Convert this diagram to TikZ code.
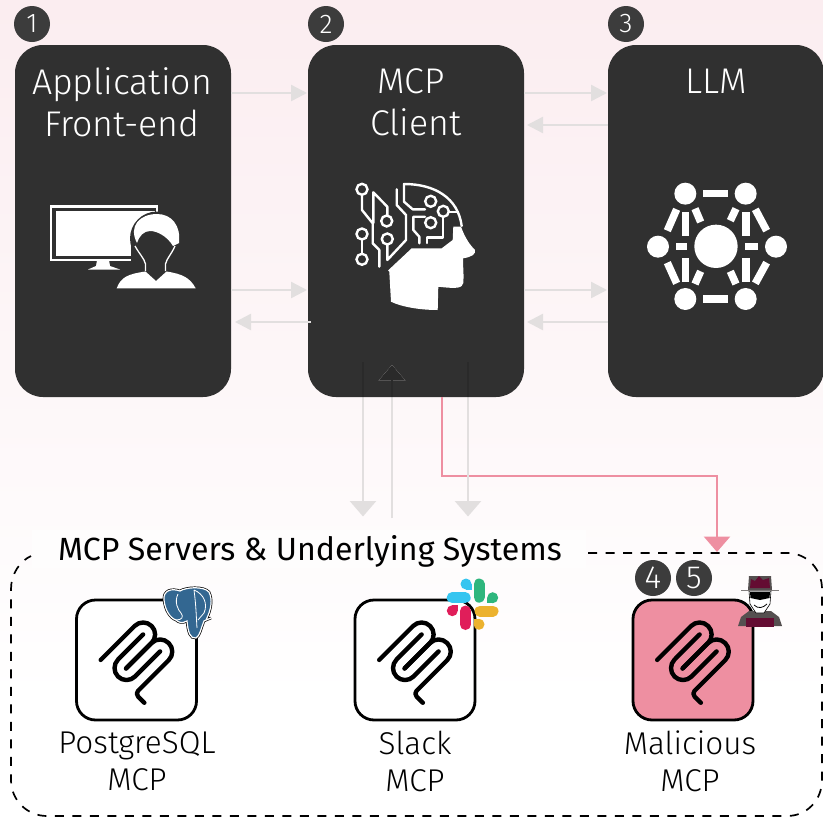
\documentclass[tikz,border=0pt]{standalone}
\usepackage{fontspec}
\setmainfont{Fira Sans Light}
\newfontfamily\hdrfont{Fira Sans}
\usetikzlibrary{arrows.meta,calc,shadings}
\definecolor{boxdark}{HTML}{303030}
\definecolor{darkline}{HTML}{2A2A2A}
\definecolor{badge}{HTML}{3C3C3C}
\definecolor{flow}{HTML}{E2DFDF}
\definecolor{evil}{HTML}{EE8FA1}
\definecolor{hatred}{HTML}{640C32}
\definecolor{bgtop}{HTML}{FBEDF0}
\tikzset{
 x=1pt,y=-1pt,
 panel/.style={fill=boxdark,draw=none,rounded corners=28},
 paneltxt/.style={text=white,font=\fontsize{35.7}{42}\selectfont,align=center,inner sep=0,anchor=center},
 num/.style={circle,fill=badge,text=white,minimum size=36,inner sep=0,font=\fontsize{27}{27}\selectfont},
 numb/.style={num,font=\fontsize{32}{32}\selectfont},
 arrowf/.style={draw=flow,line width=2.4,-{Triangle[length=16,width=16,fill=flow]}},
 arrowv/.style={draw=flow,line width=2.8,-{Triangle[length=15.5,width=26,fill=flow]}},
 arrowd/.style={draw=darkline,line width=2.8,-{Triangle[length=15.5,width=26,fill=darkline]}},
 arrowp/.style={draw=evil,line width=2.8,-{Triangle[length=15.5,width=26,fill=evil]}},
 srv/.style={draw=black,line width=2.8,rounded corners=19,fill=white},
 srvtxt/.style={text=black,font=\fontsize{31.5}{37}\selectfont,align=center,inner sep=0},
 icl/.style={draw=white,line width=2.4,fill=none,line cap=round,line join=round},
 icc/.style={draw=white,line width=2.4,fill=boxdark},
 mcpl/.style={draw=black,line width=4.4,line cap=round,line join=round,fill=none},
}
\newcommand{\mcplogo}[2]{%
 \begin{scope}[shift={(#1,#2)},x=.5pt,y=-.5pt]
  \draw[mcpl] (25,97.85) -- (92.88,29.97) .. controls (102.26,20.6) and (117.45,20.6) .. (126.82,29.97)
   .. controls (136.2,39.34) and (136.2,54.54) .. (126.82,63.91) -- (75.56,115.18);
  \draw[mcpl] (76.27,114.47) -- (126.82,63.91) .. controls (136.2,54.54) and (151.39,54.54) .. (160.77,63.91)
   -- (161.12,64.27) .. controls (170.49,73.64) and (170.49,88.83) .. (161.12,98.21)
   -- (99.72,159.6) .. controls (96.6,162.72) and (96.6,167.79) .. (99.72,170.91) -- (112.33,183.52);
  \draw[mcpl] (109.85,46.94) -- (59.65,97.15) .. controls (50.28,106.52) and (50.28,121.71) .. (59.65,131.09)
   .. controls (69.02,140.46) and (84.22,140.46) .. (93.59,131.09) -- (143.79,80.88);
 \end{scope}}
\begin{document}
\begin{tikzpicture}
\useasboundingbox (0,0) rectangle (823,817);
\shade[top color=bgtop,bottom color=white] (0,0) rectangle (823,700);
\fill[white] (0,699) rectangle (823,817);
% panels
\path[panel] (15,45) rectangle (231,397);
\path[panel] (308,45) rectangle (524,397);
\path[panel] (608,45) rectangle (824,397);
\node[coordinate] (a1) at (231,93) {}; \node[coordinate] (b1) at (307,93) {};
\node[coordinate] (a2) at (231,290) {}; \node[coordinate] (b2) at (307,290) {};
\node[coordinate] (a3) at (311,322) {}; \node[coordinate] (b3) at (235,322) {};
\node[coordinate] (c1) at (524,93) {}; \node[coordinate] (d1) at (607,93) {};
\node[coordinate] (c2) at (608,125) {}; \node[coordinate] (d2) at (527,125) {};
\node[coordinate] (c3) at (524,290) {}; \node[coordinate] (d3) at (607,290) {};
\node[coordinate] (c4) at (608,322) {}; \node[coordinate] (d4) at (527,322) {};
\draw[arrowf] (a1) -- (b1);
\draw[arrowf] (a2) -- (b2);
\draw[arrowf] (a3) -- (b3);
\draw[arrowf] (c1) -- (d1);
\draw[arrowf] (c2) -- (d2);
\draw[arrowf] (c3) -- (d3);
\draw[arrowf] (c4) -- (d4);
% vertical
\node[coordinate] (v1) at (363,362) {}; \node[coordinate] (v1e) at (363,516.5) {};
\node[coordinate] (v2) at (392,518) {}; \node[coordinate] (v2e) at (392,365) {};
\node[coordinate] (v3) at (468,362) {}; \node[coordinate] (v3e) at (468,516.5) {};
\node[coordinate] (p1) at (442,397) {}; \node[coordinate] (p2) at (717,552) {};
\draw[arrowp] (p1) -- (442,476) -- (717,476) -- (p2);
\draw[arrowv] (v1) -- (v1e);
\draw[arrowv] (v2) -- (v2e);
\draw[arrowv] (v3) -- (v3e);
\begin{scope}
\clip[rounded corners=28] (308,45) rectangle (524,397);
\draw[arrowd] (v1) -- (v1e);
\draw[arrowd] (v2) -- (v2e);
\draw[arrowd] (v3) -- (v3e);
\end{scope}
% titles
\node[paneltxt] (t1) at (122,102) {Application\\Front-end};
\node[paneltxt] (t2) at (416,102) {MCP\kern10pt\\Client};
\node[paneltxt] (t3) at (716,81) {LLM};
\node[num] (n1) at (32,24) {1};
\node[num] (n2) at (326,24) {2};
\node[num] (n3) at (626,24) {3};
% user icon
\fill[white] (50,205) rectangle (158,260.7);
\fill[boxdark] (52,207.5) rectangle (156,258.5);
\fill[white] (55.7,210.7) rectangle (155,256);
\fill[white] (97,260) -- (109,260) -- (110,266) -- (120,269.5) -- (88,269.5) -- (96,266) -- cycle;
\fill[boxdark] (157,238.5) circle[radius=27];
\fill[boxdark] (130.5,240) rectangle (160,272);
\fill[white] (137,243) .. controls (128,226) and (140,214) .. (157,214) .. controls (172,214) and (181,226) .. (179,243)
 -- (173,246) .. controls (167,236) and (157,231) .. (150,231) .. controls (144,231) and (139,236) .. (137,243) -- cycle;
\draw[white,line width=1.3] (135,246) .. controls (140,255) and (144,258) .. (145.5,264) -- (145.5,271)
 (175,246) .. controls (171,255) and (167,258) .. (165.5,264) -- (165.5,271);
\fill[white] (116.7,288.3) .. controls (121,277) and (128,274) .. (145.5,271.5) -- (156,281) -- (166.5,271.5)
 .. controls (183,274) and (190,278) .. (195.7,288.3) -- cycle;
% brain icon
\draw[icl] (362,195) -- (362,210) -- (372.7,223.3) -- (372.7,243.3) -- (379.3,250) -- (379.3,266.7);
\draw[icl] (373.3,223) -- (373.3,192.3) -- (387.3,206.7) -- (387.3,215);
\draw[icl] (362,240) -- (362,254);
\draw[icl] (387.3,245) -- (387.3,260) -- (406,240) -- (406,215) -- (396.7,205) -- (396.7,189.3);
\draw[icl] (425,209.3) -- (412.7,209.3) -- (404,201.7) -- (404,184) .. controls (435,184) and (458,198) .. (461.7,226);
\draw[icl] (419.3,243.3) -- (419.3,236.7) -- (413.3,230) -- (413.3,216.7) -- (425,216.7);
\draw[icl] (426.7,243) -- (426.7,237.3) -- (442.7,237.3) -- (442.7,216.7);
\draw[icl] (448.3,211.7) -- (458,211.7);
\foreach \x/\y in {362/189.3,362/234,362/259.3,386.7/221,387.3/239,430.7/201.3,430.7/222.7,443.3/211.3}{\draw[icc] (\x,\y) circle[radius=5.5];}
\fill[white] (453.3,226.7) -- (461,226.7) .. controls (465,238) and (470,245) .. (475,250)
 .. controls (476,254) and (472,257) .. (463,258.3) .. controls (463,268) and (464,276) .. (463.3,283)
 .. controls (462,288) and (458,289) .. (438.3,286.7) -- (437.7,310) .. controls (420,310) and (402,307) .. (391,301.7)
 -- (389.3,271.7) -- (388,270.5) -- (411.7,248.3) -- (441.7,248.3) -- (452.7,240) -- cycle;
% llm icon
\begin{scope}[shift={(630,160)},x=0.3333pt,y=-0.3333pt]
\foreach \x/\y in {166/101,347/101,84/260,438/260,166/417,347/417}{\fill[white] (\x,\y) circle[radius=33];}
\fill[white] (258,259) circle[radius=65];
\foreach \a/\b/\c/\d in {220/90/294/112,220/406/294/428,155/155/177/227,337/155/359/227,155/293/177/365,337/293/359/365,138/250/172/271,344/250/385/271}{\fill[white] (\a,\b) rectangle (\c,\d);}
\foreach \ax/\ay/\bx/\by in {
 140/148/112/212, 376/148/410/212, 195/146/212/186, 318/146/301/182,
 112/308/140/370, 410/308/376/370, 212/334/195/372, 301/334/318/372}{
 \draw[white,line width=7.5,line cap=butt] (\ax,\ay) -- (\bx,\by);}
\end{scope}
% dashed
\draw[black,line width=1.7,dash pattern=on 9 off 8.5] (588,553) -- (787,553) .. controls (807,553) and (822,569) .. (822,589)
 -- (822,780) .. controls (822,800) and (807,816) .. (787,816) -- (47,816) .. controls (27,816) and (11,800) .. (11,780)
 -- (11,589) .. controls (11,574) and (20,561) .. (31,556);
\fill[white,opacity=.65] (32,530) rectangle (586,568);
\node[text=black,font=\hdrfont\fontsize{32.1}{36}\selectfont,inner sep=0,anchor=west] (hdr) at (58,551) {MCP Servers \& Underlying Systems};
% servers
\path[srv] (76.5,600) rectangle (196.5,720);
\path[srv] (355,600) rectangle (475,720);
\path[srv,fill=evil] (633,600) rectangle (753,720);
\mcplogo{88.2}{611}
\mcplogo{366.7}{611}
\mcplogo{644.7}{611}
\node[srvtxt] (s1) at (137,761) {PostgreSQL\\MCP};
\node[srvtxt] (s2) at (415,761) {Slack\\MCP};
\node[srvtxt] (s3) at (690,761) {Malicious\\MCP};
\node[numb] (n4) at (653,578) {4};
\node[numb] (n5) at (694,578) {5};
% elephant
\definecolor{pgb}{HTML}{336791}
\newcommand{\elephantpath}{(164,600) .. controls (163,590) and (172,588) .. (180,591)
 .. controls (186,587) and (204,586) .. (209,592) .. controls (213,600) and (211,610) .. (206,620)
 -- (211,618) -- (204,621) .. controls (201,628) and (200,636) .. (196,638) .. controls (190,639) and (188,632) .. (187,621)
 .. controls (182,624) and (178,622) .. (176,620) .. controls (170,618) and (165,610) .. (164,600) -- cycle}
\draw[black,line width=2.6] \elephantpath;
\draw[white,line width=1.2,fill=pgb] \elephantpath;
\draw[white,line width=.8] (178,594) .. controls (174,602) and (178,610) .. (181,613) .. controls (184,617) and (182,620) .. (176,620)
 (194,590) .. controls (204,594) and (208,604) .. (204,613) -- (198,620) (194,590) .. controls (196,605) and (196,612) .. (197,628);
% slack
\definecolor{sb}{HTML}{36C5F0}\definecolor{sg}{HTML}{2EB67D}\definecolor{sy}{HTML}{ECB22E}\definecolor{sr}{HTML}{E01E5A}
\begin{scope}[line cap=round]
\draw[sb,line width=11] (452.2,597.7) -- (465.2,597.7);
\draw[sg,line width=11] (479,584) -- (479,597.2);
\draw[sy,line width=11] (480,611) -- (493,611);
\draw[sr,line width=11] (465.5,611) -- (465.5,624.5);
\end{scope}
\fill[sb] (466,584) circle[radius=5.5];\fill[sb] (466,584) rectangle (471.5,589.5);
\fill[sg] (492.7,597.7) circle[radius=5.5];\fill[sg] (487.2,597.7) rectangle (492.7,603.2);
\fill[sy] (479,624.3) circle[radius=5.5];\fill[sy] (473.5,618.8) rectangle (479,624.3);
\fill[sr] (452.3,610.7) circle[radius=5.5];\fill[sr] (452.3,605.2) rectangle (457.8,610.7);
% spy
\definecolor{gr}{HTML}{555050}
\fill[gr] (738,626) -- (741,617) -- (749,611) -- (771,611) -- (779,617) -- (782,626) -- cycle;
\fill[white,draw=black,line width=.6] (749,591) -- (771,591) -- (770,604) -- (764,613) -- (756,613) -- (750,604) -- cycle;
\fill[black] (750,592) -- (770,592) -- (769.5,598) -- (760,600) -- (750.5,598) -- cycle;
\draw[black,line width=.8] (754,605) .. controls (758,609) and (763,608) .. (767,604);
\fill[gr!75!white] (741,589.5) rectangle (779,591);
\fill[gr] (749,576) -- (771,576) -- (772,590) -- (748,590) -- cycle;
\fill[hatred] (751,579) -- (755,581) -- (759,576) -- (763,580) -- (769,578) -- (770,588) -- (750,588) -- cycle;
\fill[hatred] (745.7,618) rectangle (774.3,627);
\end{tikzpicture}
\end{document}
